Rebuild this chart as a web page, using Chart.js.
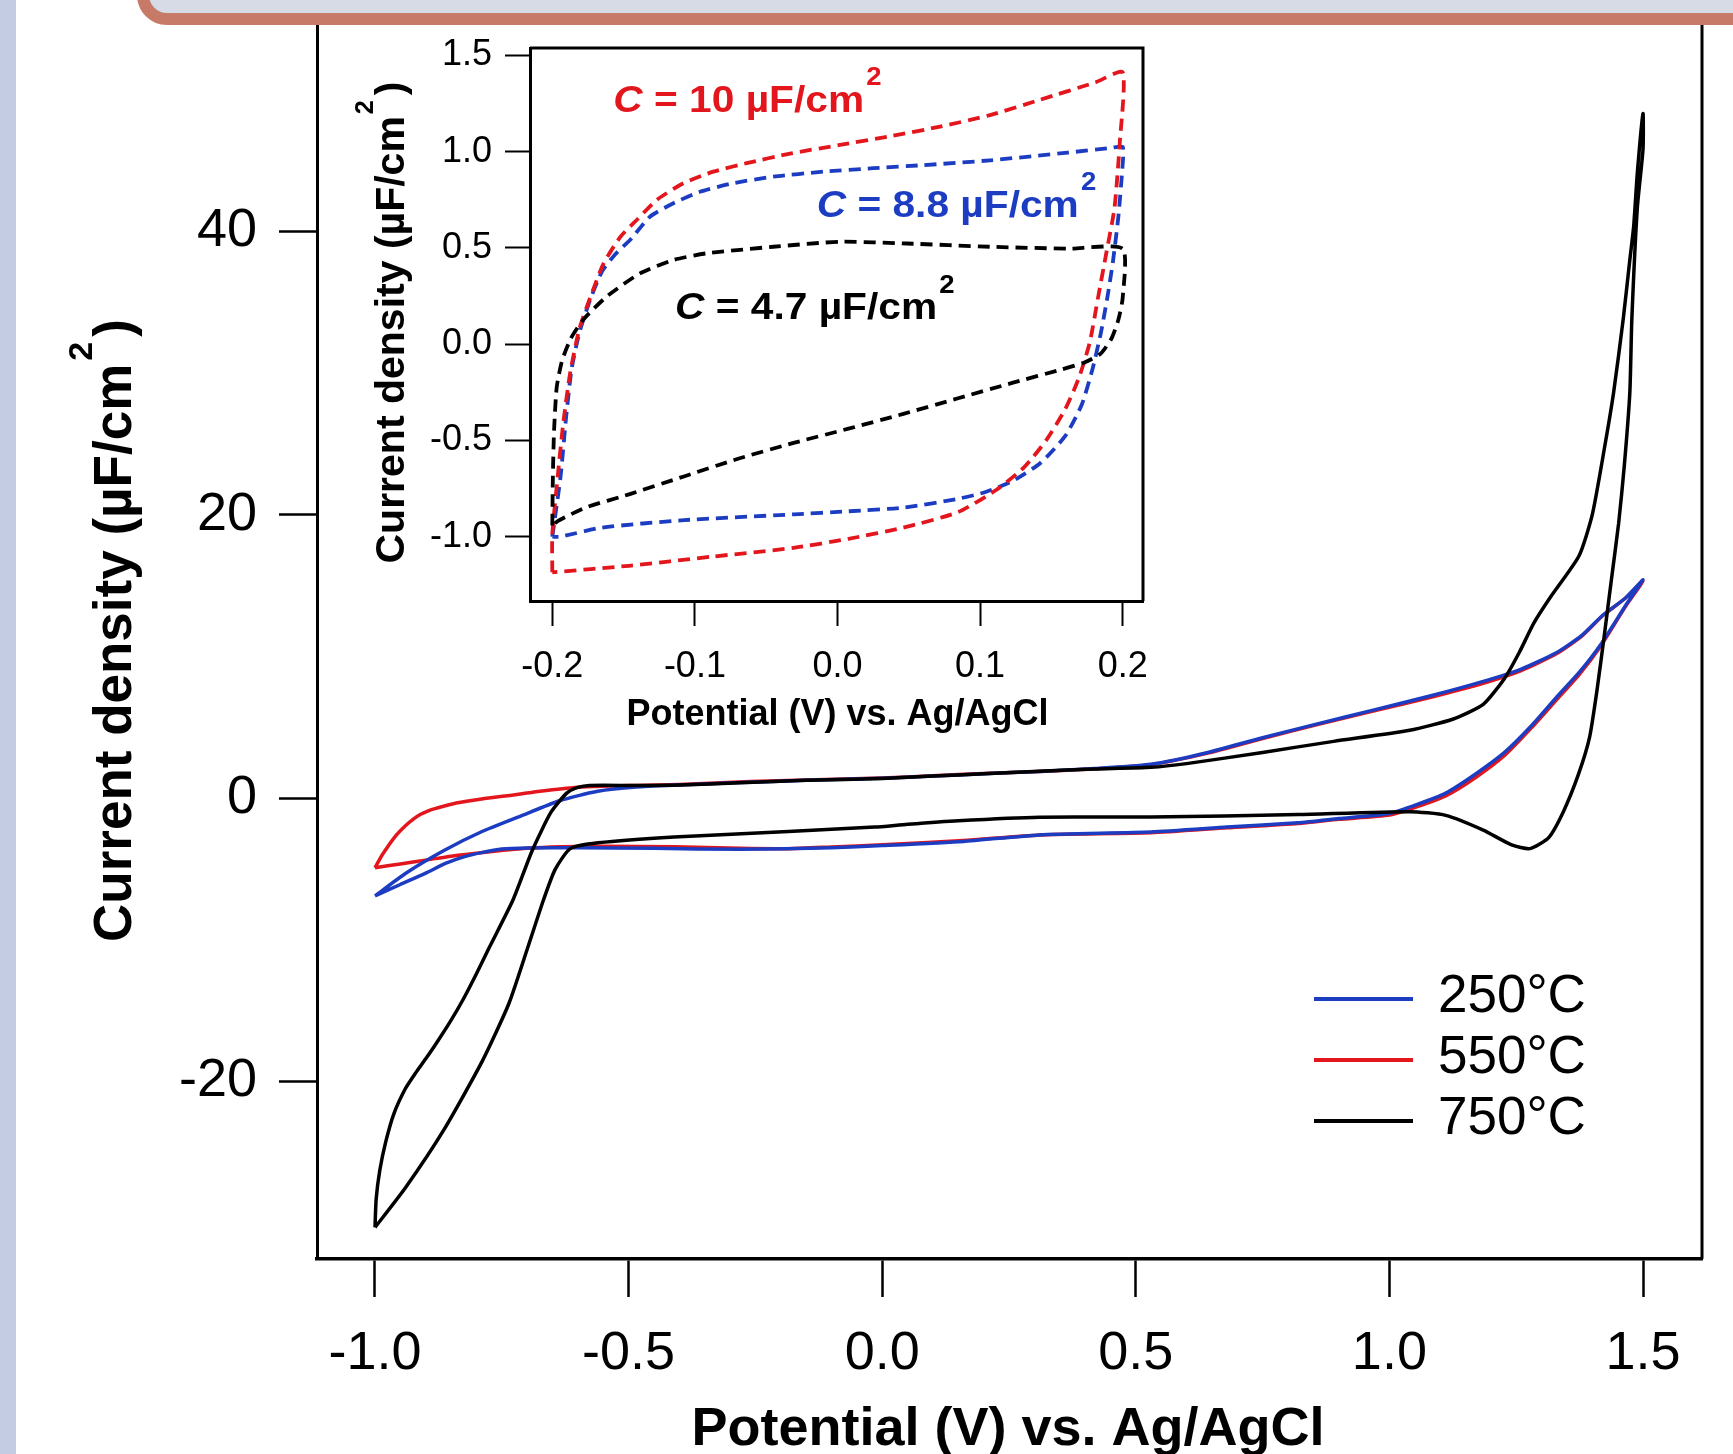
<!DOCTYPE html>
<html>
<head>
<meta charset="utf-8">
<title>Cyclic voltammograms</title>
<script src="https://cdn.jsdelivr.net/npm/chart.js@4.4.1/dist/chart.umd.min.js"></script>
<style>
  html, body { margin: 0; padding: 0; background: #ffffff; }
  body { width: 1733px; height: 1454px; position: relative; overflow: hidden; }
  #main { position: absolute; left: 0; top: 0; }
  #inset { position: absolute; left: 330px; top: 30px; }
  .banner {
    position: absolute; left: 137px; top: -60px; width: 1700px; height: 61px;
    background: #d6dbe6; border: 12px solid #c87a68; border-radius: 30px;
  }
  .strip { position: absolute; left: 0; top: 0; width: 16px; height: 1454px; background: #c4cce4; }
</style>
</head>
<body>
<canvas id="main" width="1733" height="1454"></canvas>
<canvas id="inset" width="850" height="720"></canvas>
<div class="banner"></div>
<div class="strip"></div>
<script>
// ---------- main CVs: potential (V vs. Ag/AgCl) and current density ----------
const potential250 = [-1.0, -0.94, -0.864, -0.789, -0.713, -0.636, -0.561, -0.485, -0.40, -0.28, -0.15, 0.0, 0.1, 0.2, 0.31, 0.42, 0.53, 0.64, 0.75, 0.86, 0.97, 1.08, 1.18, 1.26, 1.33, 1.38, 1.42, 1.465, 1.5,
  1.467, 1.416, 1.375, 1.33, 1.28, 1.227, 1.17, 1.111, 1.055, 1.0, 0.9, 0.82, 0.68, 0.53, 0.31, 0.16, 0.0, -0.1, -0.28, -0.45, -0.6, -0.7, -0.75, -0.79, -0.825, -0.86, -0.9, -0.95, -1.0];
const current250 = [-6.9, -5.32, -3.70, -2.36, -1.27, -0.19, 0.48, 0.78, 0.92, 1.09, 1.25, 1.40, 1.55, 1.72, 1.88, 2.08, 2.38, 3.2, 4.26, 5.25, 6.22, 7.2, 8.18, 9.1, 10.27, 11.5, 12.88, 14.1, 15.4,
  13.66, 10.8, 8.9, 7.13, 5.1, 3.22, 1.7, 0.35, -0.45, -1.09, -1.45, -1.74, -2.05, -2.4, -2.6, -3.06, -3.35, -3.5, -3.62, -3.55, -3.5, -3.52, -3.6, -3.85, -4.15, -4.6, -5.3, -6.1, -6.9];

const potential550 = [-1.0, -0.985, -0.96, -0.94, -0.925, -0.91, -0.895, -0.88, -0.84, -0.79, -0.72, -0.675, -0.606, -0.485, -0.40, -0.26, -0.15, 0.0, 0.1, 0.2, 0.31, 0.42, 0.53, 0.64, 0.75, 0.86, 0.97, 1.08, 1.18, 1.26, 1.33, 1.38, 1.42, 1.465, 1.5,
  1.467, 1.416, 1.375, 1.33, 1.28, 1.227, 1.17, 1.111, 1.055, 1.0, 0.9, 0.82, 0.68, 0.53, 0.31, 0.16, 0.0, -0.1, -0.184, -0.28, -0.41, -0.55, -0.636, -0.70, -0.787, -0.85, -0.9, -0.95, -1.0];
const current550 = [-4.92, -3.97, -2.7, -1.95, -1.5, -1.15, -0.9, -0.73, -0.35, -0.06, 0.25, 0.48, 0.75, 0.89, 0.95, 1.16, 1.28, 1.42, 1.57, 1.74, 1.87, 2.07, 2.36, 3.15, 4.2, 5.2, 6.15, 7.1, 8.05, 9.0, 10.2, 11.45, 12.85, 14.1, 15.3,
  13.6, 10.7, 8.75, 6.95, 4.95, 3.0, 1.45, 0.15, -0.6, -1.2, -1.5, -1.8, -2.1, -2.45, -2.6, -3.0, -3.3, -3.45, -3.57, -3.55, -3.44, -3.4, -3.44, -3.55, -3.84, -4.1, -4.38, -4.65, -4.92];

const potential750 = [-1.0, -0.9977, -0.9907, -0.9791, -0.963, -0.94, -0.92, -0.90, -0.879, -0.852, -0.826, -0.80, -0.774, -0.728, -0.69, -0.653, -0.622, -0.60, -0.577, -0.485, -0.40, -0.28, -0.15, 0.0, 0.1, 0.2, 0.31, 0.42, 0.53, 0.60, 0.75, 0.89, 1.04, 1.126, 1.185, 1.227, 1.256, 1.285, 1.318, 1.374, 1.40, 1.424, 1.442, 1.461, 1.474, 1.4815, 1.489, 1.5,
  1.5, 1.4887, 1.478, 1.474, 1.463, 1.452, 1.438, 1.424, 1.4095, 1.3945, 1.3725, 1.343, 1.314, 1.277, 1.241, 1.185, 1.111, 1.04, 0.82, 0.53, 0.31, 0.15, 0.05, -0.015, -0.185, -0.41, -0.56, -0.615, -0.645, -0.668, -0.698, -0.736, -0.789, -0.864, -0.94, -1.0];
const current750 = [-30.3, -28.3, -26.3, -24.3, -22.3, -20.5, -19.4, -18.4, -17.3, -15.8, -14.2, -12.4, -10.5, -7.2, -3.7, -1.0, 0.35, 0.75, 0.89, 0.89, 0.92, 1.08, 1.25, 1.38, 1.55, 1.72, 1.9, 2.05, 2.17, 2.43, 3.22, 4.0, 4.78, 5.58, 6.61, 8.44, 10.27, 12.36, 14.2, 17.1, 20.0, 24.7, 28.6, 33.8, 37.98, 40.3, 44.2, 48.3,
  45.8, 41.6, 33.8, 28.6, 23.4, 19.4, 15.5, 11.57, 7.66, 4.26, 1.65, -0.96, -2.79, -3.57, -3.31, -2.26, -1.22, -0.96, -1.16, -1.34, -1.35, -1.6, -1.85, -2.05, -2.36, -2.75, -3.16, -3.57, -5.05, -7.21, -10.46, -14.5, -18.6, -23.4, -27.5, -30.3];

const seriesLabels = ['250°C', '550°C', '750°C'];
const mainXTicks = [-1.0, -0.5, 0.0, 0.5, 1.0, 1.5];
const mainYTicks = [-20, 0, 20, 40];

// ---------- inset: narrow-window CVs ----------
const insetPotential10 = [-0.2, -0.2, -0.1962, -0.1923, -0.1875, -0.181, -0.173, -0.164, -0.152, -0.1408, -0.1268, -0.1081, -0.0871, -0.0637, -0.0333, 0.0017, 0.0368, 0.0719, 0.107, 0.1423, 0.1808, 0.2,
  0.198, 0.1942, 0.1885, 0.1827, 0.1769, 0.1692, 0.1596, 0.1462, 0.1308, 0.1115, 0.0846, 0.0462, 0.0077, -0.0308, -0.0885, -0.1462, -0.2];
const insetCurrent10 = [-1.185, -0.988, -0.687, -0.409, -0.15, 0.08, 0.25, 0.42, 0.56, 0.645, 0.749, 0.836, 0.896, 0.94, 0.99, 1.035, 1.08, 1.13, 1.19, 1.27, 1.36, 1.412,
  1.052, 0.705, 0.473, 0.241, 0.009, -0.177, -0.339, -0.501, -0.640, -0.756, -0.872, -0.953, -1.011, -1.058, -1.104, -1.151, -1.185];

const insetPotential88 = [-0.2, -0.1942, -0.1904, -0.1865, -0.181, -0.1735, -0.165, -0.1555, -0.1455, -0.1315, -0.1151, -0.0964, -0.0731, -0.045, -0.0099, 0.0251, 0.0602, 0.107, 0.1615, 0.1923, 0.2,
  0.2, 0.1969, 0.1931, 0.1892, 0.1846, 0.1788, 0.1712, 0.1596, 0.1423, 0.1231, 0.1038, 0.0846, 0.0462, 0.0077, -0.0308, -0.1077, -0.1654, -0.1942, -0.2];
const insetCurrent88 = [-1.0, -0.687, -0.385, -0.13, 0.06, 0.23, 0.38, 0.47, 0.541, 0.662, 0.732, 0.792, 0.836, 0.870, 0.896, 0.914, 0.93, 0.955, 0.995, 1.02, 1.025,
  0.936, 0.658, 0.426, 0.241, 0.055, -0.130, -0.316, -0.478, -0.617, -0.710, -0.768, -0.803, -0.849, -0.868, -0.884, -0.914, -0.953, -1.0, -1.0];

const insetPotential47 = [-0.2, -0.1996, -0.1988, -0.1969, -0.1931, -0.187, -0.178, -0.1619, -0.1385, -0.1151, -0.0917, -0.045, 0.0017, 0.0485, 0.107, 0.1615, 0.2,
  0.2, 0.1969, 0.1923, 0.1846, 0.1731, 0.1577, 0.1231, 0.0846, 0.0462, 0.0077, -0.0308, -0.0692, -0.1077, -0.1462, -0.1769, -0.1962, -0.2];
const insetCurrent47 = [-0.942, -0.687, -0.455, -0.223, -0.084, 0.03, 0.13, 0.247, 0.368, 0.437, 0.472, 0.506, 0.532, 0.523, 0.506, 0.496, 0.496,
  0.241, 0.125, 0.032, -0.049, -0.095, -0.130, -0.200, -0.281, -0.362, -0.439, -0.513, -0.594, -0.687, -0.780, -0.849, -0.919, -0.942];

const capacitanceValues = ['10', '8.8', '4.7'];
const insetXTicks = [-0.2, -0.1, 0.0, 0.1, 0.2];
const insetYTicks = [-1.0, -0.5, 0.0, 0.5, 1.0, 1.5];

const xTitle = 'Potential (V) vs. Ag/AgCl';
const yTitle = 'Current density (µF/cm';

// ---------- drawing helpers ----------
const FONT = "'Liberation Sans', Arial, Helvetica, sans-serif";
Chart.defaults.font.family = FONT;
Chart.defaults.color = '#000';

const BLUE = '#1c3cc2';
const RED = '#e3161d';
const BLACK = '#000000';

function toPoints(xs, ys) { return xs.map((x, i) => ({ x, y: ys[i] })); }

// draws a run of text pieces (regular, italic, superscript) along one baseline
function drawRuns(ctx, runs, x, y, opt) {
  opt = opt || {};
  ctx.save();
  ctx.translate(x, y);
  if (opt.angle) ctx.rotate(opt.angle);
  if (opt.scaleX) ctx.scale(opt.scaleX, 1);
  ctx.textBaseline = 'alphabetic';
  ctx.textAlign = 'left';
  let total = 0;
  runs.forEach(r => { ctx.font = r.font; total += (r.gap || 0) + ctx.measureText(r.text).width; });
  let cx = opt.align === 'center' ? -total / 2 : 0;
  runs.forEach(r => {
    ctx.font = r.font;
    ctx.fillStyle = r.color || opt.color || '#000';
    cx += r.gap || 0;
    ctx.fillText(r.text, cx, r.dy || 0);
    cx += ctx.measureText(r.text).width;
  });
  ctx.restore();
}

// closes the plot box on the top and right
const boxFrame = {
  id: 'boxFrame',
  afterDatasetsDraw(chart, args, opts) {
    const { ctx, chartArea: a } = chart;
    ctx.save();
    ctx.strokeStyle = '#000';
    ctx.lineWidth = opts.width || 3;
    ctx.beginPath();
    ctx.moveTo(a.left, a.top);
    ctx.lineTo(a.right, a.top);
    ctx.lineTo(a.right, a.bottom);
    ctx.stroke();
    ctx.restore();
  }
};

// axis titles and free text for each chart
const textLayer = {
  id: 'textLayer',
  afterDraw(chart, args, opts) {
    (opts.items || []).forEach(it => drawRuns(chart.ctx, it.runs, it.x, it.y, it));
  }
};

// legend drawn inside the main plot
const innerLegend = {
  id: 'innerLegend',
  afterDraw(chart, args, opts) {
    const ctx = chart.ctx;
    ctx.save();
    chart.data.datasets.forEach((ds, i) => {
      const y = opts.y + i * opts.step;
      ctx.strokeStyle = ds.borderColor;
      ctx.lineWidth = 4;
      ctx.beginPath();
      ctx.moveTo(opts.x, y);
      ctx.lineTo(opts.x + opts.len, y);
      ctx.stroke();
      ctx.fillStyle = '#000';
      ctx.font = '53px ' + FONT;
      ctx.textBaseline = 'middle';
      ctx.textAlign = 'left';
      ctx.fillText(ds.label, opts.x + opts.len + 25, y - 2);
    });
    ctx.restore();
  }
};

function fixedTicks(values) {
  return scale => { scale.ticks = values.map(v => ({ value: v })); };
}
// the plot box is set by the layout, not by the edge labels
function fitX(h) { return s => { s.height = h; s.paddingLeft = 0; s.paddingRight = 0; }; }
function fitY(w) { return s => { s.width = w; s.paddingTop = 0; s.paddingBottom = 0; }; }

// ---------- main chart ----------
const B = 'bold ';
new Chart(document.getElementById('main'), {
  type: 'scatter',
  data: {
    datasets: [
      { label: seriesLabels[0], data: toPoints(potential250, current250), borderColor: BLUE, order: 1 },
      { label: seriesLabels[1], data: toPoints(potential550, current550), borderColor: RED, order: 2 },
      { label: seriesLabels[2], data: toPoints(potential750, current750), borderColor: BLACK, order: 0 }
    ]
  },
  options: {
    responsive: false,
    animation: false,
    devicePixelRatio: 1,
    events: [],
    layout: { padding: { left: 0, right: 31, top: 0, bottom: 0 } },
    datasets: { scatter: { showLine: true, pointRadius: 0, borderWidth: 3.5, tension: 0.2, fill: false } },
    plugins: {
      legend: { display: false },
      tooltip: { enabled: false },
      boxFrame: { width: 3 },
      innerLegend: { x: 1314, y: 999, step: 61, len: 99 },
      textLayer: {
        items: [
          { runs: [{ text: xTitle, font: B + '54px ' + FONT }], x: 1008, y: 1445, align: 'center' },
          { runs: [
              { text: yTitle, font: B + '53px ' + FONT },
              { text: '2', font: B + '34px ' + FONT, dy: -39, gap: 3 },
              { text: ')', font: B + '53px ' + FONT, gap: 5 }
            ], x: 131, y: 942, angle: -Math.PI / 2 }
        ]
      }
    },
    scales: {
      x: {
        type: 'linear', min: -1.11435, max: 1.61632,
        afterFit: fitX(195),
        afterBuildTicks: fixedTicks(mainXTicks),
        ticks: { font: { size: 54 }, color: '#000', padding: 25, maxRotation: 0, autoSkip: false, callback: v => v.toFixed(1) },
        grid: { drawOnChartArea: false, drawTicks: true, tickLength: 38, tickWidth: 2.5, tickColor: '#000' },
        border: { display: true, color: '#000', width: 3.5 }
      },
      y: {
        type: 'linear', min: -32.53, max: 56.32,
        afterFit: fitY(317),
        afterBuildTicks: fixedTicks(mainYTicks),
        ticks: { font: { size: 54 }, color: '#000', padding: 22, autoSkip: false, callback: v => String(v) },
        grid: { drawOnChartArea: false, drawTicks: true, tickLength: 38, tickWidth: 2.5, tickColor: '#000' },
        border: { display: true, color: '#000', width: 3 }
      }
    }
  },
  plugins: [boxFrame, textLayer, innerLegend]
});

// ---------- inset chart ----------
function capLabel(value, color) {
  return [
    { text: 'C', font: 'italic bold 37px ' + FONT, color },
    { text: ' = ' + value + ' µF/cm', font: B + '37px ' + FONT, color },
    { text: '2', font: B + '25px ' + FONT, color, dy: -26.5, gap: 2 }
  ];
}

new Chart(document.getElementById('inset'), {
  type: 'scatter',
  data: {
    datasets: [
      { label: 'C = ' + capacitanceValues[0], data: toPoints(insetPotential10, insetCurrent10), borderColor: RED, order: 1 },
      { label: 'C = ' + capacitanceValues[1], data: toPoints(insetPotential88, insetCurrent88), borderColor: BLUE, order: 2 },
      { label: 'C = ' + capacitanceValues[2], data: toPoints(insetPotential47, insetCurrent47), borderColor: BLACK, order: 0 }
    ]
  },
  options: {
    responsive: false,
    animation: false,
    devicePixelRatio: 1,
    events: [],
    layout: { padding: { left: 0, right: 37, top: 18, bottom: 0 } },
    datasets: { scatter: { showLine: true, pointRadius: 0, borderWidth: 3.8, borderDash: [12, 7], tension: 0.2, fill: false } },
    plugins: {
      legend: { display: false },
      tooltip: { enabled: false },
      boxFrame: { width: 3 },
      textLayer: {
        items: [
          { runs: [{ text: xTitle, font: B + '36px ' + FONT }], x: 507.5, y: 695, align: 'center' },
          { runs: [
              { text: yTitle, font: B + '41px ' + FONT },
              { text: '2', font: B + '25px ' + FONT, dy: -31, gap: 2 },
              { text: ')', font: B + '41px ' + FONT, gap: 5 }
            ], x: 74, y: 533.5, angle: -Math.PI / 2 },
          { runs: capLabel(capacitanceValues[0], RED), x: 283.3, y: 81.7, scaleX: 1.1 },
          { runs: capLabel(capacitanceValues[1], BLUE), x: 486.7, y: 186.7, scaleX: 1.1 },
          { runs: capLabel(capacitanceValues[2], BLACK), x: 345, y: 289.3, scaleX: 1.1 }
        ]
      }
    },
    scales: {
      x: {
        type: 'linear', min: -0.21564, max: 0.21424,
        afterFit: fitX(149),
        afterBuildTicks: fixedTicks(insetXTicks),
        ticks: { font: { size: 36 }, color: '#000', padding: 19, maxRotation: 0, autoSkip: false, callback: v => v.toFixed(1) },
        grid: { drawOnChartArea: false, drawTicks: true, tickLength: 25, tickWidth: 2, tickColor: '#000' },
        border: { display: true, color: '#000', width: 3 }
      },
      y: {
        type: 'linear', min: -1.334, max: 1.5384,
        afterFit: fitY(200),
        afterBuildTicks: fixedTicks(insetYTicks),
        ticks: { font: { size: 36 }, color: '#000', padding: 13, autoSkip: false, callback: v => v.toFixed(1) },
        grid: { drawOnChartArea: false, drawTicks: true, tickLength: 25, tickWidth: 2, tickColor: '#000' },
        border: { display: true, color: '#000', width: 3 }
      }
    }
  },
  plugins: [boxFrame, textLayer]
});
</script>
</body>
</html>
